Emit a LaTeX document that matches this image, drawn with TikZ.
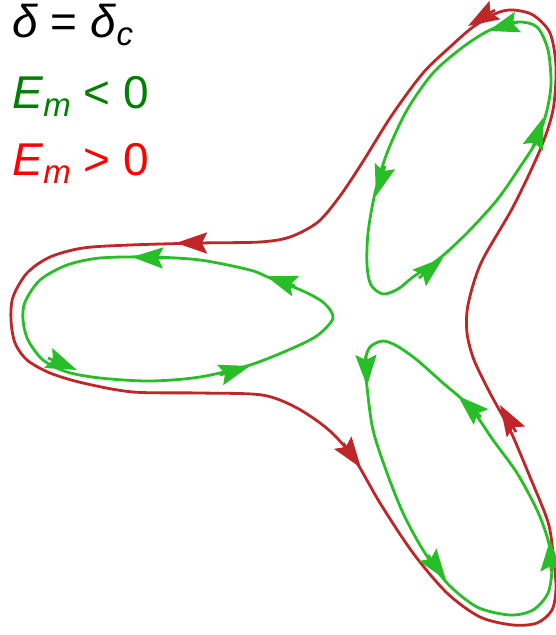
\documentclass[tikz,border=0pt]{standalone}
\usepackage{fontspec}
\setmainfont{Liberation Sans}
\usetikzlibrary{arrows.meta}
\definecolor{orbred}{RGB}{190,38,40}
\definecolor{orbgreen}{RGB}{40,190,40}
\definecolor{labgreen}{RGB}{0,128,0}
\newcommand{\lowsub}[1]{\raisebox{-8pt}{\fontsize{33}{33}\selectfont\textit{#1}}}

\begin{document}
\begin{tikzpicture}[x=1pt,y=-1pt,
  orbit/.style={line width=2.8pt,line join=round},
  redtip/.style={orbred,line width=2.8pt,-{Stealth[length=31pt,width=21pt,inset=5pt]}},
  greentip/.style={orbgreen,line width=2.8pt,-{Stealth[length=31pt,width=21pt,inset=5pt]}},
  lab/.style={anchor=base west,inner sep=0pt,font=\fontsize{46}{52}\selectfont}]
\useasboundingbox (0,0) rectangle (556,635);
% labels
\node[lab] (crit) at (12,37) {\textit{δ} = \textit{δ}\lowsub{c}};
\node[lab,text=labgreen] (neg) at (12,108) {\textit{E}\lowsub{m} < 0};
\node[lab,text=red] (pos) at (12,175) {\textit{E}\lowsub{m} > 0};
% E_m > 0 orbit round the three wells
\draw[orbit,orbred] plot[smooth cycle] coordinates {(362,163) (340,196) (318,222) (290,237) (260,242) (200,243) (130,245) (83,248) (50,257) (27,273) (13,297) (11,320) (15,343) (27,360) (50,373) (83,383) (133,392) (200,393) (262,395) (297,408) (330,431) (355,460) (380,503) (413,553) (447,593) (480,617) (513,625) (537,623) (552,610) (556,587) (553,553) (548,522) (530,477) (510,430) (490,393) (474,360) (467,333) (468,305) (481,263) (513,207) (540,150) (553,110) (556,67) (550,33) (533,15) (513,10) (497,13) (473,27) (450,47) (423,73) (392,115)};
\draw[redtip] (207,243) -- (176,243);
\draw[redtip] (343,443) -- (361,468);
\draw[redtip] (516,432) -- (500,405);
\draw[redtip] (495,10) -- (468,26);
% E_m < 0 orbits, one per well
\draw[orbit,orbgreen] plot[smooth cycle] coordinates {(333,318) (324,303) (303,291) (270,278) (250,270) (200,260) (150,257) (100,258) (67,265) (40,280) (25,302) (23,320) (28,340) (43,360) (67,372) (100,378) (150,381) (200,377) (250,365) (293,348) (318,335)};
\draw[greentip] (163,258) -- (132,257);
\draw[greentip] (295,286) -- (266,276);
\draw[greentip] (48,358) -- (77,370);
\draw[greentip] (220,375) -- (250,366);
\draw[orbit,orbgreen] plot[smooth cycle] coordinates {(517,22) (490,30) (463,47) (433,73) (407,110) (387,153) (375,193) (368,233) (367,265) (371,285) (383,294) (398,289) (413,277) (440,258) (467,233) (497,200) (520,167) (537,140) (547,110) (551,83) (548,50) (537,27)};
\draw[greentip] (385,166) -- (376,196);
\draw[greentip] (419,278) -- (443,258);
\draw[greentip] (533,147) -- (543,118);
\draw[greentip] (518,22) -- (488,31);
\draw[orbit,orbgreen] plot[smooth cycle] coordinates {(370,347) (365,362) (367,387) (373,430) (387,473) (403,513) (423,550) (447,583) (477,607) (510,615) (533,610) (548,593) (552,567) (548,540) (537,510) (517,473) (493,440) (470,407) (443,383) (417,360) (397,346) (383,341)};
\draw[greentip] (366,355) -- (367,386);
\draw[greentip] (481,417) -- (458,396);
\draw[greentip] (428,555) -- (446,580);
\draw[greentip] (551,571) -- (550,540);
\end{tikzpicture}
\end{document}
